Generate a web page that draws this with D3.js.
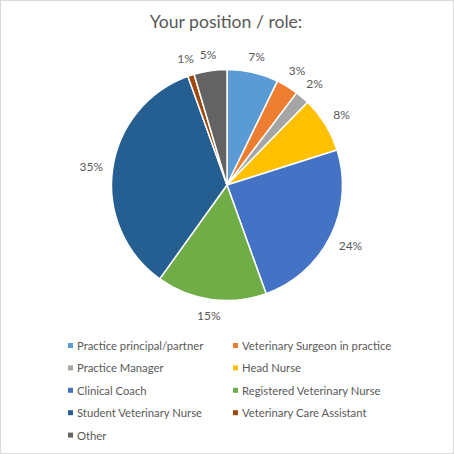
<!DOCTYPE html>
<html>
<head>
<meta charset="utf-8">
<script src="https://cdn.jsdelivr.net/npm/d3@7"></script>
<style>
  body { margin: 0; background: #fff; }
  svg { display: block; font-family: Lato, "Open Sans", sans-serif; }
</style>
</head>
<body>
<div id="chart"></div>
<script>
// survey answers, share of respondents (%)
var roles = [
    "Practice principal/partner",
    "Veterinary Surgeon in practice",
    "Practice Manager",
    "Head Nurse",
    "Clinical Coach",
    "Registered Veterinary Nurse",
    "Student Veterinary Nurse",
    "Veterinary Care Assistant",
    "Other"
];
var shares = [7.2, 3.1, 2.0, 7.8, 24.4, 15.4, 34.6, 0.9, 4.6];
var colours = ["#5B9BD5", "#ED7D31", "#A5A5A5", "#FFC000", "#4472C4",
               "#70AD47", "#255E91", "#9E480E", "#636363"];

var svgWidth = 454;
var svgHeight = 454;
var cx = 227, cy = 185, radius = 115.5;

var svg = d3.select("#chart")
    .append("svg")
    .attr("width", svgWidth)
    .attr("height", svgHeight);

svg.append("rect")
    .attr("x", 0.5).attr("y", 0.5)
    .attr("width", svgWidth - 1).attr("height", svgHeight - 1)
    .attr("fill", "#fff")
    .attr("stroke", "#D9D9D9");

svg.append("text")
    .attr("x", svgWidth / 2 - 1)
    .attr("y", 28)
    .attr("text-anchor", "middle")
    .attr("font-size", "17.6px")
    .attr("fill", "#595959")
    .text("Your position / role:");

var data = roles.map(function (r, i) {
    return { role: r, value: shares[i], colour: colours[i] };
});
var total = d3.sum(shares);

var pie = d3.pie().sort(null).value(d => d.value);
var arc = d3.arc().innerRadius(0).outerRadius(radius);
var arcs = pie(data);

var pieGroup = svg.append("g")
    .attr("transform", `translate(${cx}, ${cy})`);

pieGroup.selectAll("path")
    .data(arcs)
    .enter()
    .append("path")
    .attr("d", arc)
    .attr("fill", d => d.data.colour)
    .attr("stroke", "#fff")
    .attr("stroke-width", 1.5)
    .attr("stroke-linejoin", "round");

// outside-end labels, pushed out by half the text box along the ray
var labelFont = 12;
pieGroup.selectAll("text.pct")
    .data(arcs)
    .enter()
    .append("text")
    .attr("class", "pct")
    .attr("font-size", labelFont + "px")
    .attr("fill", "#595959")
    .attr("text-anchor", "middle")
    .attr("dominant-baseline", "central")
    .text(d => Math.round(d.data.value / total * 100) + "%")
    .each(function (d) {
        var a = (d.startAngle + d.endAngle) / 2;
        var w = this.getComputedTextLength();
        var h = labelFont;
        var ext = Math.abs(Math.sin(a)) * w / 2 + Math.abs(Math.cos(a)) * h / 2;
        var r = radius + 9 + ext;
        d3.select(this)
            .attr("x", r * Math.sin(a))
            .attr("y", -r * Math.cos(a));
    });

// legend, two columns
var legend = svg.append("g");
var colX = [68, 233];
var rowY = 345.5;
var rowStep = 22.4;

var items = legend.selectAll("g")
    .data(data)
    .enter()
    .append("g")
    .attr("transform", (d, i) =>
        `translate(${colX[i % 2]}, ${rowY + Math.floor(i / 2) * rowStep})`);

items.append("rect")
    .attr("x", 0).attr("y", -2.5)
    .attr("width", 5).attr("height", 5)
    .attr("fill", d => d.colour);

items.append("text")
    .attr("x", 9)
    .attr("y", 0)
    .attr("dominant-baseline", "central")
    .attr("font-size", "11.3px")
    .attr("fill", "#595959")
    .text(d => d.role);
</script>
</body>
</html>
